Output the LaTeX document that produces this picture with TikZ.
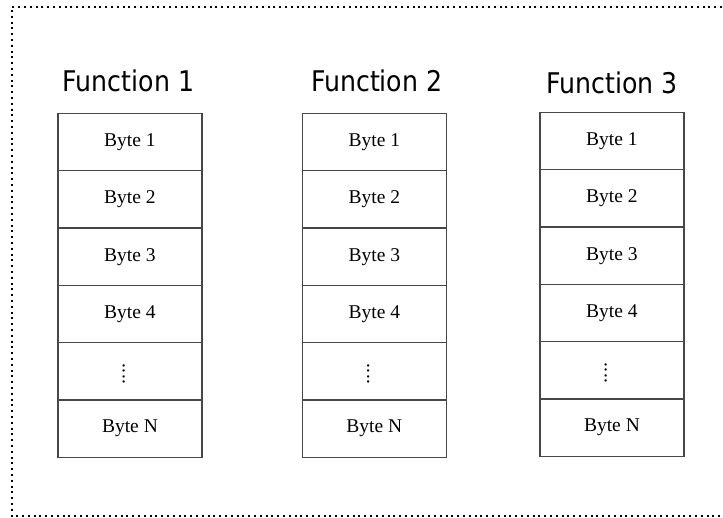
\documentclass[tikz,border=0pt]{standalone}
\usepackage{fontspec}
\setmainfont{Liberation Serif}
\newfontfamily\headfont[FakeStretch=0.885]{DejaVu Sans}
\begin{document}
\begin{tikzpicture}[x=1pt,y=-1pt,
  cell/.style={draw=black!72, line width=1.3pt, minimum width=144pt,
    minimum height=57.33pt, inner sep=0pt, anchor=north west,
    font=\fontsize{19.5}{22}\selectfont},
  head/.style={anchor=base, inner sep=0pt,
    font=\headfont\fontsize{28.5}{32}\selectfont},
  elide/.style={rotate=-90, anchor=base, inner sep=0pt,
    font=\fontsize{19.5}{22}\selectfont},
  frame/.style={line width=2pt, dash pattern=on 2pt off 3.8pt}]
\useasboundingbox (0,0) rectangle (723,517);
% dotted enclosing frame, open on the right
\draw[frame] (722,7) -- (11.5,7) -- (11.5,515.5) -- (722,515.5);
% three memory columns
\foreach \c/\x/\y in {1/57.3/112.7, 2/301.7/112.7, 3/539.3/111.7}{
  \foreach \r/\t in {1/Byte 1, 2/Byte 2, 3/Byte 3, 4/Byte 4, 5/{}, 6/Byte N}{
    \node[cell] (c\c\r) at (\x,{\y+(\r-1)*57.33}) {\t};
  }
  % vertical run of four dots for the elided rows
  \node[elide] (d\c) at ([xshift=-7pt, yshift=-2.75pt]c\c5.center)
    {.\kern.6pt.\kern.6pt.\kern.6pt.};
}
% column headings
\node[head] (f1) at (128.5,91.7) {Function 1};
\node[head] (f2) at (376.7,91) {Function 2};
\node[head] (f3) at (612,93.3) {Function 3};
\end{tikzpicture}
\end{document}
